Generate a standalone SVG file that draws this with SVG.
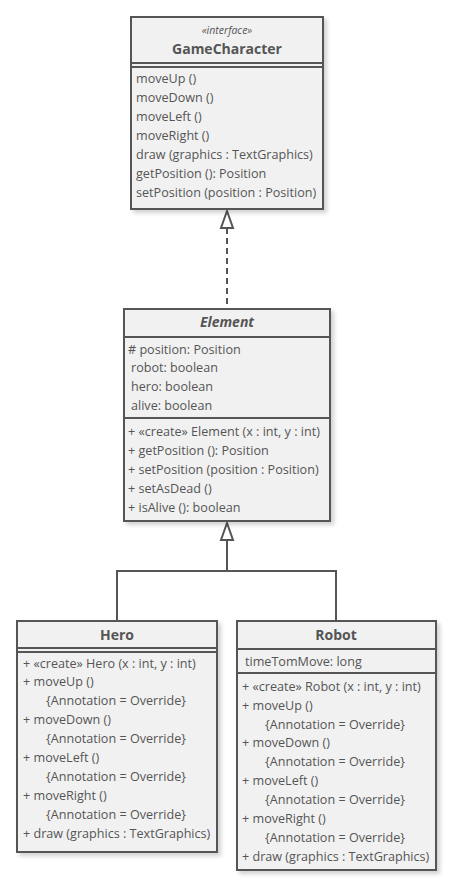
<svg xmlns="http://www.w3.org/2000/svg" width="456" height="891" viewBox="0 0 456 891">
<style>
.box{fill:#f1f1f1;stroke:#555;stroke-width:2}
.ln{stroke:#555;stroke-width:2;fill:none}
text{font-family:"Open Sans","Noto Sans","DejaVu Sans",sans-serif;font-size:12.6px;fill:#555}
.t{font-size:14px;font-weight:bold;text-anchor:middle}
.st{font-size:10.5px;font-style:italic;text-anchor:middle}
</style>
<defs>
<filter id="sh" x="-10%" y="-10%" width="130%" height="130%">
<feDropShadow dx="3" dy="3" stdDeviation="2" flood-color="#000" flood-opacity="0.18"/>
</filter>
</defs>
<g id="connectors">
<line class="ln" x1="227" y1="228" x2="227" y2="309" stroke-dasharray="6,4"/>
<polygon points="227,211 221,228 233,228" fill="#fff" stroke="#555" stroke-width="2"/>
<polyline class="ln" points="117,621 117,571 336,571 336,621"/>
<line class="ln" x1="227" y1="540" x2="227" y2="571"/>
<polygon points="227,523 221,540 233,540" fill="#fff" stroke="#555" stroke-width="2"/>
</g>
<g id="GameCharacter">
<rect class="box" x="131" y="17" width="192" height="192" filter="url(#sh)"/>
<line class="ln" x1="131" y1="63" x2="323" y2="63"/>
<line class="ln" x1="131" y1="67" x2="323" y2="67"/>
<text class="st" x="227" y="34">«interface»</text>
<text class="t" x="227" y="54">GameCharacter</text>
<text x="136" y="83">moveUp ()</text>
<text x="136" y="102">moveDown ()</text>
<text x="136" y="121">moveLeft ()</text>
<text x="136" y="140">moveRight ()</text>
<text x="136" y="159">draw (graphics : TextGraphics)</text>
<text x="136" y="178">getPosition (): Position</text>
<text x="136" y="197">setPosition (position : Position)</text>
</g>
<g id="Element">
<rect class="box" x="124" y="309" width="206" height="212" filter="url(#sh)"/>
<line class="ln" x1="124" y1="337" x2="330" y2="337"/>
<line class="ln" x1="124" y1="418" x2="330" y2="418"/>
<text class="t" x="227" y="327" font-style="italic">Element</text>
<text x="128" y="354"># position: Position</text>
<text x="131" y="372">robot: boolean</text>
<text x="131" y="391">hero: boolean</text>
<text x="131" y="410">alive: boolean</text>
<text x="128" y="436">+ «create» Element (x : int, y : int)</text>
<text x="128" y="455">+ getPosition (): Position</text>
<text x="128" y="474">+ setPosition (position : Position)</text>
<text x="128" y="493">+ setAsDead ()</text>
<text x="128" y="512">+ isAlive (): boolean</text>
</g>
<g id="Hero">
<rect class="box" x="17" y="621" width="200" height="231" filter="url(#sh)"/>
<line class="ln" x1="17" y1="648" x2="217" y2="648"/>
<line class="ln" x1="17" y1="652" x2="217" y2="652"/>
<text class="t" x="117" y="640">Hero</text>
<text x="23" y="668">+ «create» Hero (x : int, y : int)</text>
<text x="23" y="686">+ moveUp ()</text>
<text x="46" y="705">{Annotation = Override}</text>
<text x="23" y="724">+ moveDown ()</text>
<text x="46" y="743">{Annotation = Override}</text>
<text x="23" y="762">+ moveLeft ()</text>
<text x="46" y="781">{Annotation = Override}</text>
<text x="23" y="800">+ moveRight ()</text>
<text x="46" y="819">{Annotation = Override}</text>
<text x="23" y="838">+ draw (graphics : TextGraphics)</text>
</g>
<g id="Robot">
<rect class="box" x="237" y="621" width="199" height="249" filter="url(#sh)"/>
<line class="ln" x1="237" y1="649" x2="436" y2="649"/>
<line class="ln" x1="237" y1="673" x2="436" y2="673"/>
<text class="t" x="336" y="640">Robot</text>
<text x="245" y="666">timeTomMove: long</text>
<text x="242" y="691">+ «create» Robot (x : int, y : int)</text>
<text x="242" y="710">+ moveUp ()</text>
<text x="265" y="729">{Annotation = Override}</text>
<text x="242" y="747">+ moveDown ()</text>
<text x="265" y="766">{Annotation = Override}</text>
<text x="242" y="785">+ moveLeft ()</text>
<text x="265" y="804">{Annotation = Override}</text>
<text x="242" y="823">+ moveRight ()</text>
<text x="265" y="842">{Annotation = Override}</text>
<text x="242" y="861">+ draw (graphics : TextGraphics)</text>
</g>
</svg>
